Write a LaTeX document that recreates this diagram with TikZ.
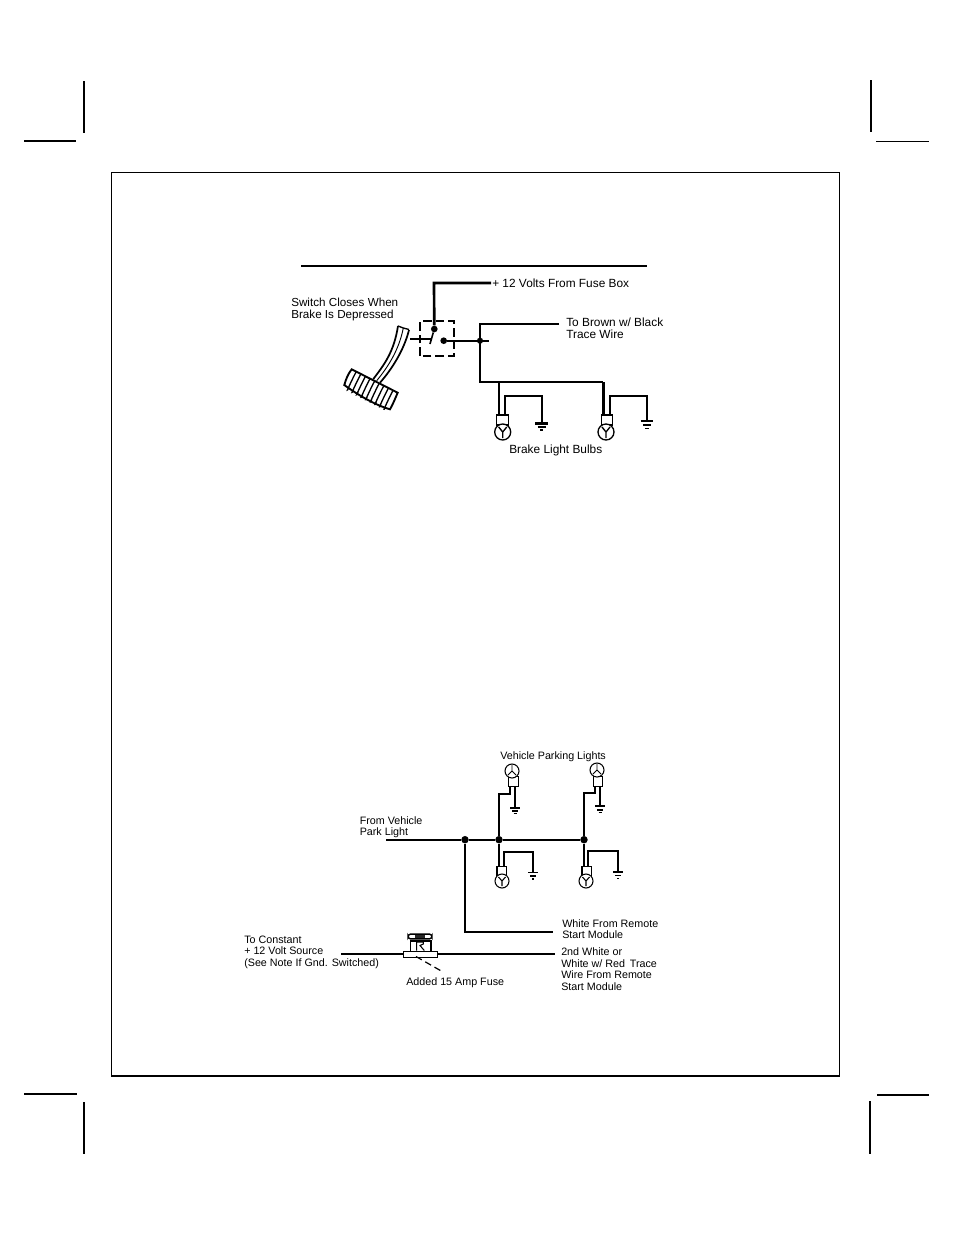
\documentclass[tikz,border=0pt]{standalone}
\usepackage{fontspec}
\usetikzlibrary{calc}
\setmainfont{Liberation Sans}
\begin{document}
\begin{tikzpicture}[x=0.75pt,y=-0.75pt,line join=miter,
  lbl/.style={anchor=west,align=left,inner sep=0pt,font=\fontsize{8.9}{9}\selectfont},
  lbs/.style={anchor=west,align=left,inner sep=0pt,font=\fontsize{8.05}{8.6}\selectfont},
  wire/.style={draw=black,line width=1.6pt},
  heavy wire/.style={draw=black,line width=2pt},
  thin wire/.style={draw=black,line width=1.3pt},
  dotj/.style={circle,fill=black,inner sep=0pt,minimum size=5pt},
  dotk/.style={circle,fill=black,inner sep=0pt,minimum size=5.6pt},
  sock/.style={draw=black,fill=white,line width=0.8pt,inner sep=0pt},
  bulb/.style={circle,draw=black,fill=white,line width=1pt,inner sep=0pt},
  crop/.style={draw=black,line width=1.25pt}]
\useasboundingbox (0,0) rectangle (954,1235);
\fill[white] (0,0) rectangle (954,1235);
% crop marks
\draw[crop] (84,81)--(84,133) (24,140.7)--(76,140.7);
\draw[crop] (871,80)--(871,132);
\draw[line width=0.75pt] (876,141)--(929,141);
\draw[crop] (84,1102)--(84,1154) (24,1094)--(77,1094);
\draw[crop] (870,1101)--(870,1154) (877,1095)--(929,1095);
% frame
\draw[line width=0.75pt] (839.3,1075.7)--(839.3,172.3)--(111.7,172.3)--(111.7,1075.7);
\draw[line width=1.2pt] (111,1075.7)--(840,1075.7);
% heading rule
\draw[line width=1.5pt] (301,266)--(647,266);

% ---------- upper diagram
\coordinate (fuseend) at (491,283);
\coordinate (corner) at (434,283);
\node[dotj] (sa) at (434.3,329) {};
\node[dotj] (sb) at (443.7,340.7) {};
\node[dotj,minimum size=4.6pt] (ju) at (480,340.7) {};
\coordinate (stubr) at (489,340.7);
\coordinate (bladeend) at (430,344);
\coordinate (pl) at (410,339);
\coordinate (pr) at (431,339);
\draw[line width=2pt] (sa)--(corner)--(fuseend);
\draw[line width=1.2pt] (sa)--(bladeend);
\draw[line width=1.1pt] (pl)--(pr);
\draw[line width=1.2pt] (sb)--(stubr);
\draw[line width=1.2pt,dash pattern=on 6.5pt off 3pt] (420,356) rectangle (454,321);
\coordinate (brownend) at (559,324);
\coordinate (bus1) at (480,382);
\coordinate (bus2) at (603.3,382);
\draw[wire] (brownend)--(480,324)--(bus1)--(bus2);
% pedal arm
\draw[line width=1.3pt] (373.3,379) .. controls (384,365) and (394,352) .. (398,326);
\draw[line width=0.7pt] (376.7,380.7) .. controls (388,367) and (399,350) .. (403.3,328);
\draw[line width=1.3pt] (380,382.7) .. controls (392,369) and (404,350) .. (409,330);
\draw[line width=1pt] (398,326)--(403.3,328)--(409,329.5);
% pedal pad
\draw[line width=1.4pt,fill=white] (351.7,369.3)--(397.7,392.7) .. controls (395,399) and (393,404) .. (390,409.3) .. controls (375,405) and (358,395) .. (344.3,385) .. controls (346,379) and (348,374) .. (351.7,369.3)--cycle;
\foreach \t in {0.1,0.2,...,0.95}{
  \draw[line width=1pt] ($(351.7,369.3)!\t!(397.7,392.7)$) .. controls +(-3,5) and +(-5,10) .. ($(344.3,385)!\t!(390,409.3)$);
}
% bulbs upper
\node[sock,minimum width=8.5pt,minimum height=7.5pt] (s1) at (502.5,420) {};
\node[bulb,minimum size=12pt] (b1) at (502.7,432) {};
\node[sock,minimum width=8.5pt,minimum height=7.5pt] (s2) at (607,420) {};
\node[bulb,minimum size=12pt] (b2) at (606,432) {};
\foreach \b in {b1,b2}{\draw[line width=1pt] (\b.center)--++(0,6) (\b.center)--++(-4,-5) (\b.center)--++(4,-5);}
\draw[heavy wire] (499,382)--(499,415);
\draw[heavy wire] (bus2)--(603.3,415);
\draw[thin wire] (505,415)--(505,396)--(541.7,396)--(541.7,423);
\draw[thin wire] (610,415)--(610,396)--(646.7,396)--(646.7,421);
\draw[line width=1.6pt] (535,423.5)--(548,423.5) (537.5,427)--(545.5,427) (540,430)--(543,430);
\draw[line width=1pt] (640.5,421)--(653,421) (643,425)--(650.5,425) (645,428.5)--(648.5,428.5);
% ---------- lower diagram
\coordinate (pstart) at (386,839.7);
\node[dotk] (j1) at (465,839.7) {};
\node[dotk] (j2) at (499,839.7) {};
\node[dotk] (j3) at (584,839.7) {};
\draw[wire] (pstart)--(j1)--(j2)--(j3);
\coordinate (whiteend) at (553,932);
\draw[thin wire] (j1)--(465,932)--(whiteend);
% top bulbs
\node[sock,minimum width=7pt,minimum height=7pt] (t1) at (513.5,781.5) {};
\node[bulb,minimum size=10.5pt,line width=0.8pt] (c1) at (512,771) {};
\node[sock,minimum width=7pt,minimum height=7pt] (t2) at (598,781.5) {};
\node[bulb,minimum size=10.5pt,line width=0.8pt] (c2) at (597,770) {};
\foreach \b in {c1,c2}{\draw[line width=0.7pt] (\b.center)--++(0,-6) (\b.center)--++(-4,4) (\b.center)--++(4,4);}
\draw[thin wire] (j2)--(499,794)--(510,794)--(510,786);
\draw[thin wire] (j3)--(584,793)--(595,793)--(595,786);
\draw[thin wire] (515,786)--(515,807);
\draw[thin wire] (600,786)--(600,805);
\draw[line width=1.5pt] (510,807.5)--(519.5,807.5) (512,811)--(517.5,811);
\draw[line width=1.5pt] (595,806)--(605,806) (597,809.5)--(603,809.5);
\draw[line width=1pt] (513.5,813.5)--(516.5,813.5) (598.5,812.5)--(601.5,812.5);
% lower bulbs
\node[sock,minimum width=6.8pt,minimum height=7pt] (d1) at (501.5,871.5) {};
\node[bulb,minimum size=10.5pt,line width=0.8pt] (e1) at (502,881) {};
\node[sock,minimum width=6.8pt,minimum height=7pt] (d2) at (586.5,871.5) {};
\node[bulb,minimum size=10.5pt,line width=0.8pt] (e2) at (586,881) {};
\foreach \b in {e1,e2}{\draw[line width=0.8pt] (\b.center)--++(0,5) (\b.center)--++(-3.5,-4) (\b.center)--++(3.5,-4);}
\draw[thin wire] (j2)--(499,867);
\draw[thin wire] (j3)--(584,867);
\draw[line width=1pt] (504,867)--(504,852)--(533,852)--(533,872);
\draw[line width=1pt] (588,867)--(588,851)--(618,851)--(618,871);
\draw[line width=0.9pt] (528,872.5)--(538,872.5) (530,876)--(536,876) (532,879)--(534,879);
\draw[line width=1.1pt] (613,872)--(623,872) (615,875.5)--(621,875.5) (617,878.5)--(619,878.5);
% fuse
\coordinate (fl) at (341,954);
\coordinate (fr) at (555,954);
\node[draw=black,fill=white,line width=0.8pt,minimum width=25.5pt,minimum height=4.5pt,inner sep=0pt] (fuse) at (420.5,954.7) {};
\draw[line width=1.2pt] (fl)--(fuse.west |- fl);
\draw[line width=1.5pt] (fuse.east |- fr)--(fr);
\node[draw=black,line width=1pt,minimum width=15.5pt,minimum height=8pt,inner sep=0pt] (fbody) at (420.5,946.2) {};
\draw[line width=0.8pt] (416.7,950.5)--(416.7,942)--(423.3,942)--(423.3,944)--(420,945.5)--(424.3,950.5);
\node[draw=black,fill=white,line width=1.1pt,rounded corners=2pt,minimum width=18pt,minimum height=3.6pt,inner sep=0pt] (fcap) at (420,936.5) {};
\fill[black!85] (415,934.8) rectangle (425,938.2);
\coordinate (dashend) at (443,972);
\draw[line width=0.9pt,dash pattern=on 5pt off 3pt] (416,956.5)--(dashend);
% labels
\node[lbl] (l1) at (492,283) {+ 12 Volts From Fuse Box};
\node[lbl,font=\fontsize{8.75}{9}\selectfont] (l2) at (291,309) {Switch Closes When\\Brake Is Depressed};
\node[lbl] (l3) at (566,328) {To Brown w/ Black\\Trace Wire};
\node[lbl] (l4) at (509,450) {Brake Light Bulbs};
\node[lbs] (l5) at (500,756.5) {Vehicle Parking Lights};
\node[lbs,font=\fontsize{8.05}{8.2}\selectfont] (l6) at (359.5,827) {From Vehicle\\Park Light};
\node[lbs] (l7) at (562,929) {White From Remote\\Start Module};
\node[lbs] (l8) at (244,952.3) {To Constant\\+ 12 Volt Source\\(See Note If Gnd. Switched)};
\node[lbs] (l9) at (561,969.2) {2nd White or\\White w/ Red\, Trace\\Wire From Remote\\Start Module};
\node[lbs] (l10) at (406,983) {Added 15 Amp Fuse};
\end{tikzpicture}
\end{document}
